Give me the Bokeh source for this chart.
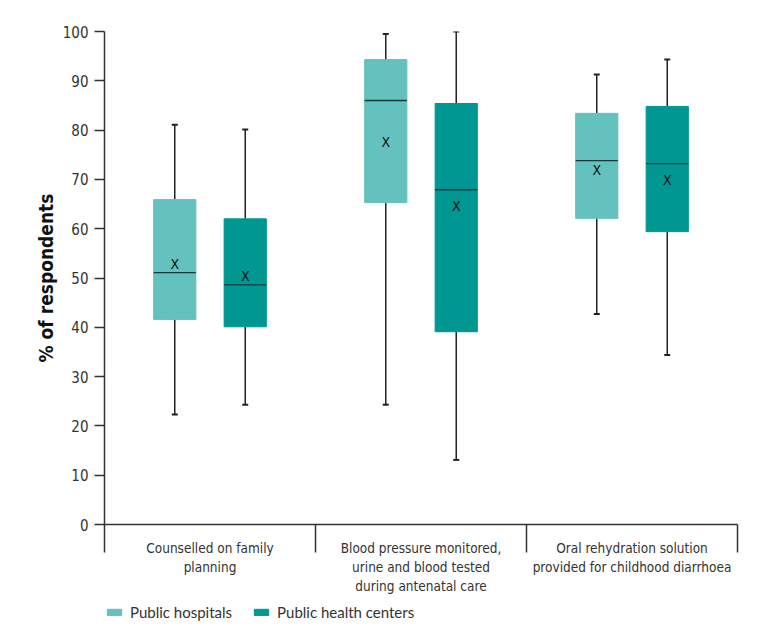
from bokeh.plotting import figure
from bokeh.layouts import column
from bokeh.models import Range1d, FixedTicker, Legend, LegendItem, ColumnDataSource
from bokeh.core.properties import value
from bokeh.embed import file_html
from bokeh.resources import INLINE

categories = [
    "Counselled on family\nplanning",
    "Blood pressure monitored,\nurine and blood tested\nduring antenatal care",
    "Oral rehydration solution\nprovided for childhood diarrhoea",
]
groups = ["Public hospitals", "Public health centers"]

hosp_min = [22.3, 24.3, 42.7]
hosp_q1 = [41.6, 65.3, 62.1]
hosp_med = [51.1, 86.0, 73.8]
hosp_q3 = [65.9, 94.3, 83.4]
hosp_max = [81.1, 99.5, 91.3]
hosp_mean = [52.9, 77.5, 72.0]

hc_min = [24.3, 13.1, 34.4]
hc_q1 = [40.1, 39.1, 59.4]
hc_med = [48.6, 67.9, 73.2]
hc_q3 = [62.0, 85.4, 84.8]
hc_max = [80.1, 100.0, 94.3]
hc_mean = [50.4, 64.6, 69.8]

y_ticks = [0, 10, 20, 30, 40, 50, 60, 70, 80, 90, 100]

colors = ["#63C1BE", "#009691"]
COND = "DejaVu Sans Condensed, Roboto"
TXT = "#333333"

p = figure(width=760, height=600, x_range=Range1d(0, 3), y_range=Range1d(0, 100),
           output_backend="svg", toolbar_location=None,
           min_border_left=104, min_border_right=23, min_border_top=31, min_border_bottom=76)
p.outline_line_color = None
p.xgrid.visible = False
p.ygrid.visible = False
p.background_fill_color = "white"

offsets = [-0.167, 0.167]
box_w = 0.2
series = [
    (hosp_min, hosp_q1, hosp_med, hosp_q3, hosp_max, hosp_mean),
    (hc_min, hc_q1, hc_med, hc_q3, hc_max, hc_mean),
]
for gi, (mn, q1, md, q3, mx, mean) in enumerate(series):
    xs = [i + 0.5 + offsets[gi] for i in range(len(categories))]
    src = ColumnDataSource(dict(x=xs, mn=mn, q1=q1, md=md, q3=q3, mx=mx, mean=mean,
                                xl=[x - box_w / 2 for x in xs], xr=[x + box_w / 2 for x in xs],
                                lab=["X"] * len(xs)))
    p.segment(x0="x", y0="q3", x1="x", y1="mx", source=src, line_color="#222222", line_width=1.5)
    p.segment(x0="x", y0="q1", x1="x", y1="mn", source=src, line_color="#222222", line_width=1.5)
    p.scatter(x="x", y="mx", source=src, marker="dash", size=6, line_color="#222222", line_width=2)
    p.scatter(x="x", y="mn", source=src, marker="dash", size=6, line_color="#222222", line_width=2)
    p.vbar(x="x", top="q3", bottom="q1", width=box_w, source=src,
           fill_color=colors[gi], line_color=colors[gi], line_width=1)
    p.segment(x0="xl", y0="md", x1="xr", y1="md", source=src, line_color="#1a3a3a", line_width=1.3)
    p.text(x="x", y="mean", text="lab", source=src, text_font=value(COND),
           text_font_size="14px", text_align="center", text_baseline="middle", text_color="#111111")

# x axis
xa = p.xaxis[0]
xa.ticker = FixedTicker(ticks=[0.5, 1.5, 2.5], minor_ticks=[0, 1, 2, 3])
xa.major_label_overrides = {i + 0.5: c for i, c in enumerate(categories)}
xa.major_tick_out = 0
xa.major_tick_in = 0
xa.minor_tick_out = 28
xa.minor_tick_in = 0
xa.minor_tick_line_color = "#333333"
xa.minor_tick_line_width = 1.5
xa.axis_line_color = "#333333"
xa.axis_line_width = 1.5
xa.major_label_standoff = -13
xa.major_label_text_font = COND
xa.major_label_text_font_size = "13.5px"
xa.major_label_text_color = TXT

# y axis
ya = p.yaxis[0]
ya.ticker = FixedTicker(ticks=y_ticks)
ya.major_tick_out = 10
ya.major_tick_in = 0
ya.minor_tick_out = 0
ya.minor_tick_in = 0
ya.major_tick_line_color = "#333333"
ya.major_tick_line_width = 1.5
ya.axis_line_color = "#333333"
ya.axis_line_width = 1.5
ya.major_label_standoff = 6
ya.major_label_text_font = COND
ya.major_label_text_font_size = "15px"
ya.major_label_text_color = TXT
ya.axis_label = "% of respondents"
ya.axis_label_text_font = COND
ya.axis_label_text_font_style = "bold"
ya.axis_label_text_font_size = "19px"
ya.axis_label_text_color = "#111111"
ya.axis_label_standoff = 3

# legend strip
lf = figure(width=760, height=28, x_range=Range1d(0, 1), y_range=Range1d(0, 1),
            output_backend="svg", toolbar_location=None, x_axis_type=None, y_axis_type=None,
            min_border=0)
lf.outline_line_color = None
lf.xgrid.visible = False
lf.ygrid.visible = False
leg_renderers = []
for gi in range(2):
    leg_renderers.append(lf.vbar(x=[0.5], top=[-2], bottom=[-3], width=0.1,
                                 fill_color=colors[gi], line_color=colors[gi]))
legend = Legend(items=[LegendItem(label=groups[i], renderers=[leg_renderers[i]]) for i in range(2)],
                orientation="horizontal", location=(1, 7),
                glyph_width=18, glyph_height=8, label_standoff=7, spacing=20,
                padding=0, margin=0, border_line_color=None, background_fill_alpha=0,
                label_text_font="Lato", label_text_font_size="15px",
                label_text_color=TXT)
lf.add_layout(legend, "center")

layout = column(p, lf, spacing=0)
open("out.html", "w").write(file_html(layout, INLINE))
